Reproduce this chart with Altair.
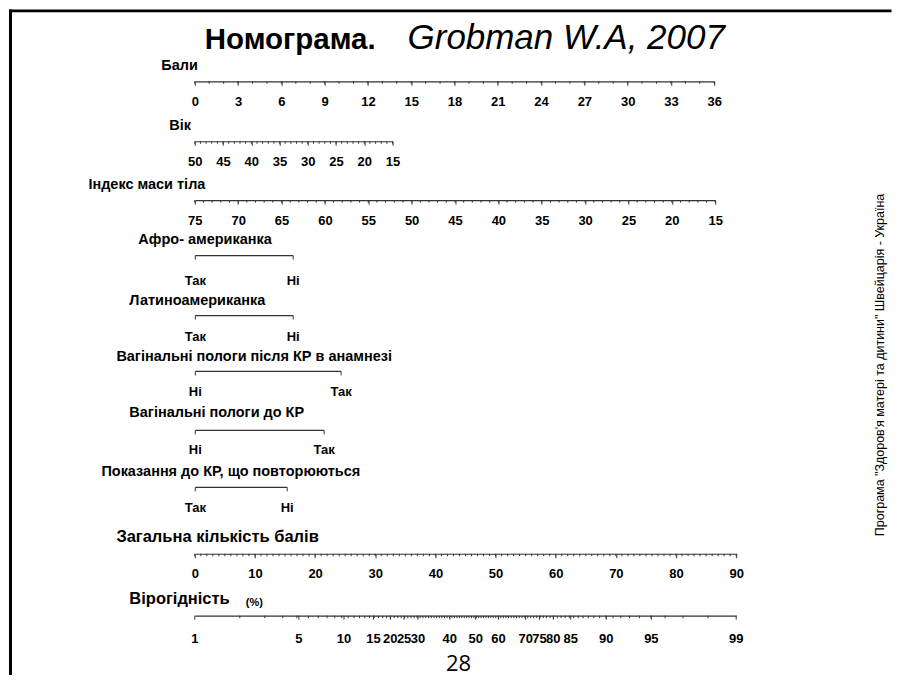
import altair as alt
import pandas as pd

FONT = "Liberation Sans"
INK = "#000000"
LINE = "#333333"

# ---------------- data ----------------
title_bold = ["Номограма."]
title_italic = ["Grobman W.A, 2007"]
side_note = ["Програма \"Здоров'я матері та дитини\" Швейцарія - Україна"]
page_number = ["28"]
pct_note = ["(%)"]

points_major = [0, 3, 6, 9, 12, 15, 18, 21, 24, 27, 30, 33, 36]
points_minor = list(range(0, 37))

age_major = [50, 45, 40, 35, 30, 25, 20, 15]
age_minor = list(range(15, 51))

bmi_major = [75, 70, 65, 60, 55, 50, 45, 40, 35, 30, 25, 20, 15]
bmi_minor = list(range(15, 76))

afro_levels = ["Так", "Ні"]
latino_levels = ["Так", "Ні"]
vbac_levels = ["Ні", "Так"]
vd_levels = ["Ні", "Так"]
recur_levels = ["Так", "Ні"]

total_major = [0, 10, 20, 30, 40, 50, 60, 70, 80, 90]
total_minor = list(range(0, 91))

prob_labels = ["1", "5", "10", "15", "20", "25", "30", "40", "50", "60",
               "70", "75", "80", "85", "90", "95", "99"]
prob_points = [0, 17.3, 24.8, 29.7, 32.5, 34.8, 37.1, 42.4, 46.7, 50.5,
               55.0, 57.3, 59.6, 62.5, 68.4, 75.9, 90]
prob_minor_pct = list(range(2, 99))
PROB_CENTER = 46.4   # total points at 50 %
PROB_SLOPE = 0.1     # logit per point

# ---------------- layout (page pixels) ----------------
LEFT = 194  # page x where every scale starts
# key: (axis line y, title left x, title centre y, plot height, width)
L = {
    "points": (80, 160, 64, 27, 520),
    "age": (140, 168, 124, 60, 198),
    "bmi": (199, 87, 183, 59, 521),
    "afro": (254, 137, 238, 55, 98),
    "latino": (314, 128, 299, 60, 98),
    "vbac": (370, 115, 356, 56, 146),
    "vd": (429, 128, 412, 59, 129),
    "recur": (486, 100, 471, 57, 92),
    "total": (553, 115, 536, 67, 542),
    "prob": (615, 128, 598, 62, 542),
}
ROW_TS = 14.5
LAB_FS = 13


def make_axis(key, title, tsize=ROW_TS, values=None, fmt=None, label_pad=10,
              ticks=True, labels=True):
    ay, tx, ty, h, w = L[key]
    kw = dict(orient="bottom", title=title, titleX=tx - LEFT, titleY=ty - ay,
              titleAlign="left", titleBaseline="middle", titleAngle=0,
              titleFont=FONT, titleFontWeight="bold", titleFontSize=tsize,
              titleColor=INK, domain=True, domainColor=LINE, domainWidth=1.2,
              ticks=ticks, tickSize=4, tickColor=LINE, tickWidth=1,
              labels=labels, labelFont=FONT, labelFontWeight="bold",
              labelFontSize=LAB_FS, labelColor=INK, labelPadding=label_pad,
              labelAngle=0, labelFlush=False, labelOverlap=False, grid=False)
    if values is not None:
        kw["values"] = values
    if fmt is not None:
        kw["format"] = fmt
    return alt.Axis(**kw)


def numeric_row(key, title, majors, minors, domain, tsize=ROW_TS, label_pad=10):
    ay, tx, ty, h, w = L[key]
    df = pd.DataFrame({"v": minors})
    return alt.Chart(df).mark_rule(color=LINE, strokeWidth=1).encode(
        x=alt.X("v:Q", scale=alt.Scale(domain=domain, nice=False, zero=False),
                axis=make_axis(key, title, tsize, majors, "d", label_pad)),
        y=alt.value(h), y2=alt.value(h + 2.5),
    )


def binary_row(key, title, levels, label_pad=11):
    ay, tx, ty, h, w = L[key]
    df = pd.DataFrame({"lvl": levels})
    return alt.Chart(df).mark_point(opacity=0).encode(
        x=alt.X("lvl:N", sort=levels,
                scale=alt.Scale(type="point", domain=levels, padding=0),
                axis=make_axis(key, title, ROW_TS, label_pad=label_pad)),
    ).properties(width=w, height=h)


def txt(values, x, y, size, weight="normal", style="normal", align="left",
        baseline="middle", angle=0, font=FONT):
    df = pd.DataFrame({"t": values})
    return alt.Chart(df).mark_text(
        font=font, fontSize=size, fontWeight=weight, fontStyle=style,
        align=align, baseline=baseline, angle=angle, color=INK,
    ).encode(text="t:N", x=alt.value(x), y=alt.value(y))


# ---------------- row 1 (points) with page decorations ----------------
ay1, _, _, h1, w1 = L["points"]
top1 = ay1 - h1  # page y of row-1 plot top

points_row = numeric_row("points", "Бали", points_major, points_minor, [0, 36])

border_df = pd.DataFrame({"k": [0]})
border_x = 9.5 - LEFT
border_y = 9.5 - top1
top_border = alt.Chart(border_df).mark_rule(color="#000000", strokeWidth=3, strokeCap="square").encode(
    x=alt.value(border_x), x2=alt.value(890 - LEFT), y=alt.value(border_y))
left_border = alt.Chart(border_df).mark_rule(color="#000000", strokeWidth=3, strokeCap="square").encode(
    x=alt.value(border_x), y=alt.value(border_y), y2=alt.value(673 - top1))

title_a = txt(title_bold, 204 - LEFT, 48 - top1, 29.5, weight="bold", baseline="alphabetic")
title_b = txt(title_italic, 407 - LEFT, 48 - top1, 35, style="italic", baseline="alphabetic")
note = txt(side_note, 880 - LEFT, 364 - top1, 12.5, align="center", angle=270)
page = txt(page_number, 458 - LEFT, 663 - top1, 22, align="center", font="Open Sans")

row1 = alt.layer(points_row, top_border, left_border, title_a, title_b, note, page).properties(
    width=w1, height=h1)

# ---------------- numeric rows ----------------
row2 = numeric_row("age", "Вік", age_major, age_minor, [50, 15]).properties(
    width=L["age"][4], height=L["age"][3])
row3 = numeric_row("bmi", "Індекс маси тіла", bmi_major, bmi_minor, [75, 15]).properties(
    width=L["bmi"][4], height=L["bmi"][3])

row4 = binary_row("afro", "Афро- американка", afro_levels, label_pad=15)
row5 = binary_row("latino", "Латиноамериканка", latino_levels)
row6 = binary_row("vbac", "Вагінальні пологи після КР в анамнезі", vbac_levels)
row7 = binary_row("vd", "Вагінальні пологи до КР", vd_levels, label_pad=10)
row8 = binary_row("recur", "Показання до КР, що повторюються", recur_levels)

row9 = numeric_row("total", "Загальна кількість балів", total_major, total_minor, [0, 90],
                   tsize=16.5).properties(width=L["total"][4], height=L["total"][3])

# ---------------- probability row ----------------
ayp, _, _, hp, wp = L["prob"]
prob_scale = alt.Scale(domain=[0, 90], nice=False, zero=False)
prob_axis = make_axis("prob", "Вірогідність", 16.5, ticks=False, labels=False)
prob_df = pd.DataFrame({"pct": prob_labels, "pos": prob_points})
minor_df = pd.DataFrame({"p": prob_minor_pct})

prob_minor = alt.Chart(minor_df).transform_calculate(
    pos=f"{PROB_CENTER} + log(datum.p / (100 - datum.p)) / {PROB_SLOPE}"
).transform_filter("datum.pos > 0 && datum.pos < 90").mark_rule(
    color=LINE, strokeWidth=1).encode(
    x=alt.X("pos:Q", scale=prob_scale, axis=prob_axis),
    y=alt.value(hp), y2=alt.value(hp + 2.5),
)
prob_major = alt.Chart(prob_df).mark_rule(color=LINE, strokeWidth=1).encode(
    x=alt.X("pos:Q", scale=prob_scale, axis=prob_axis),
    y=alt.value(hp), y2=alt.value(hp + 4),
)
prob_text = alt.Chart(prob_df).mark_text(
    font=FONT, fontWeight="bold", fontSize=LAB_FS, baseline="middle", color=INK).encode(
    x=alt.X("pos:Q", scale=prob_scale, axis=prob_axis),
    y=alt.value(hp + 23), text="pct:N",
)
pct = txt(pct_note, 245 - LEFT, 602 - (ayp - hp), 11, weight="bold")
row10 = alt.layer(prob_minor, prob_major, prob_text, pct).properties(width=wp, height=hp)

chart = alt.vconcat(row1, row2, row3, row4, row5, row6, row7, row8, row9, row10,
                    spacing=0, bounds="flush").properties(
    padding=0, background="white").configure_view(strokeWidth=0)

chart.save("out.html", embed_options={"renderer": "svg", "actions": False})
